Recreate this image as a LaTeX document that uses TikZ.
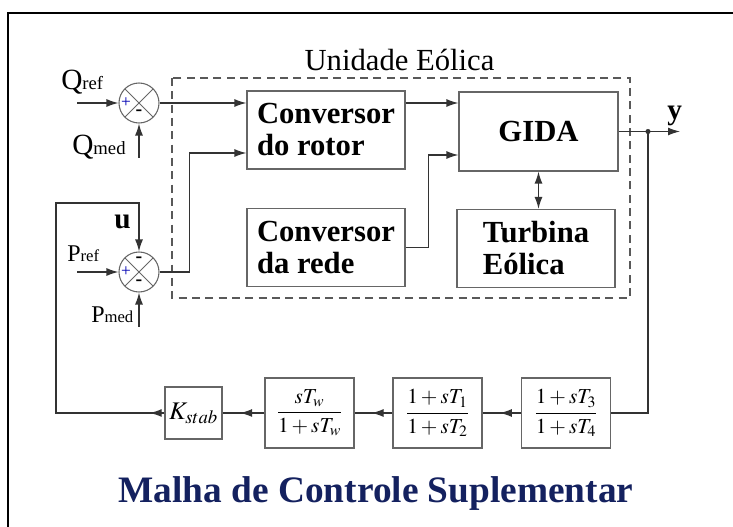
\documentclass[tikz,border=0pt]{standalone}
\usepackage{mathptmx}
\usepackage{fontspec}
\setmainfont{Liberation Serif}
\usetikzlibrary{arrows.meta,decorations.markings,calc}
\definecolor{navy}{HTML}{14215F}

\begin{document}
\begin{tikzpicture}[x=0.75pt,y=-0.75pt,
  line/.style={draw=black!80, line width=0.9pt},
  arr/.style={line, -{Latex[length=9pt,width=6pt]}},
  midarr/.style={postaction=decorate, decoration={markings,
      mark=at position #1 with {\arrow{Latex[length=9pt,width=6pt]}}}},
  blk/.style={draw=black!60, line width=0.9pt, minimum width=118.5pt, minimum height=58.5pt,
      inner sep=0pt, align=left, font=\fontsize{23}{24}\selectfont\bfseries},
  tf/.style={draw=black!60, line width=0.9pt, minimum width=66.75pt, minimum height=52.5pt,
      inner sep=0pt, font=\fontsize{16}{19}\selectfont},
  sumc/.style={circle, draw=black!60, line width=0.8pt, minimum size=30pt, inner sep=0pt,
      path picture={\draw[black!60, line width=0.6pt]
        (path picture bounding box.north west) -- (path picture bounding box.south east)
        (path picture bounding box.north east) -- (path picture bounding box.south west);}},
  lbl/.style={anchor=base west, inner sep=0pt},
  plus/.style={inner sep=0pt, text=blue!70!black, font=\fontsize{13}{13}\selectfont},
  minus/.style={inner sep=0pt, font=\fontsize{15}{15}\selectfont\bfseries}
]
\useasboundingbox (0,0) rectangle (733,527);
\draw[line width=1.5pt] (8,527) -- (8,13) -- (733,13);

\draw[black!65, line width=0.8pt, dash pattern=on 6pt off 4pt] (172,78) rectangle (630,298);
\node[anchor=base, font=\fontsize{23}{23}\selectfont] (unit) at (399.5,71) {Unidade Eólica};

\node[blk] (rotor) at (326,130) {Conversor\\do rotor};
\node[blk] (rede) at (326,247.5) {Conversor\\da rede};
\node[blk, minimum width=119.25pt, minimum height=59.25pt] (gida) at (538.5,131.5) {GIDA};
\node[blk] (turb) at (536,248.5) {Turbina\\Eólica};

\node[sumc] (sumq) at (139,103) {};
\node[sumc] (sump) at (139,272) {};
\node[plus] (qplus) at (126,103) {+};
\node[minus] (qminus) at (139,113) {-};
\node[plus] (pplus) at (126,272) {+};
\node[minus] (pminus1) at (139,260) {-};
\node[minus] (pminus2) at (139,283) {-};

\node[lbl] (qref) at (61,90) {{\fontsize{22}{22}\selectfont Q}{\fontsize{14}{14}\selectfont ref}};
\node[lbl] (qmed) at (72,155) {{\fontsize{22}{22}\selectfont Q}{\fontsize{14}{14}\selectfont med}};
\node[lbl] (pref) at (67,262) {{\fontsize{18}{18}\selectfont P}{\fontsize{12.5}{12.5}\selectfont ref}};
\node[lbl] (pmed) at (91,323) {{\fontsize{18}{18}\selectfont P}{\fontsize{12.5}{12.5}\selectfont med}};
\node[lbl, font=\fontsize{22}{22}\selectfont\bfseries] (ulab) at (114,229) {u};
\node[lbl, font=\fontsize{22}{22}\selectfont\bfseries] (ylab) at (667,120) {y};

\coordinate (qin) at (77,103);
\coordinate (qmedin) at (139,158);
\coordinate (pin) at (77,272);
\coordinate (pmedin) at (139,327);
\coordinate (fbtop) at (56,203);
\coordinate (ydot) at (648,131.5);
\coordinate (yend) at (680,131.5);

\draw[arr] (qin) -- (sumq.west);
\draw[arr] (qmedin) -- (sumq.south);
\draw[arr] (pin) -- (sump.west);
\draw[arr] (pmedin) -- (sump.south);

\draw[arr] (sumq.east) -- (rotor.west |- sumq);
\draw[arr] (sump.east) -- ++(30,0) |- ($(rotor.west)+(0,23)$);
\draw[arr] (rotor.east |- sumq) -- (gida.west |- sumq);
\draw[arr] (rede.east) -- ++(23,0) |- ($(gida.west)+(0,23.5)$);
\draw[line, {Latex[length=9pt,width=6pt]}-{Latex[length=9pt,width=6pt]}] (gida.south) -- (gida.south |- turb.north);

\draw[arr] (gida.east) -- (yend);
\fill[black!80] (ydot) circle (1.9pt);

\node[tf] (lead2) at (566,413) {$\displaystyle\frac{1+sT_3}{1+sT_4}$};
\node[tf] (lead1) at (437.5,413) {$\displaystyle\frac{1+sT_1}{1+sT_2}$};
\node[tf] (wash) at (309.5,413) {$\displaystyle\frac{sT_w}{1+sT_w}$};
\node[tf, minimum width=42.75pt, minimum height=39pt, font=\fontsize{19}{21}\selectfont] (kstab) at (193.5,413) {$K_{stab}$};

\draw[line] (ydot) |- (lead2.east);
\draw[line, midarr=0.55] (lead2.west) -- (lead1.east);
\draw[line, midarr=0.55] (lead1.west) -- (wash.east);
\draw[line, midarr=0.58] (wash.west) -- (kstab.east);
\draw[arr, midarr=11pt] (kstab.west) -| (fbtop) -| (sump.north);

\node[anchor=base, text=navy, font=\fontsize{28}{28}\selectfont\bfseries] (title) at (376,503) {Malha de Controle Suplementar};
\end{tikzpicture}
\end{document}
